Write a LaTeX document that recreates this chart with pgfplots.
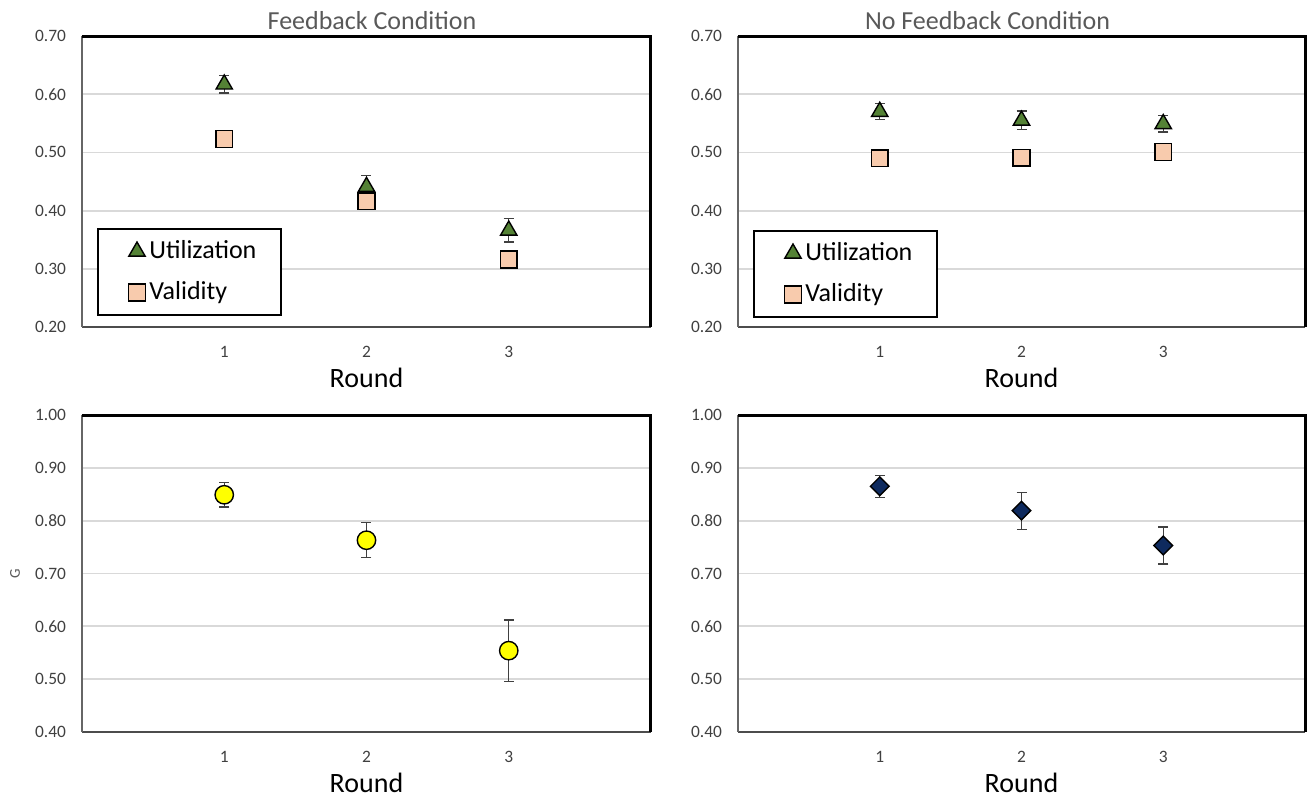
\documentclass[border=0pt]{standalone}
\usepackage{pgfplots}
\pgfplotsset{compat=1.18}
\usepackage{fontspec}
\setmainfont{Carlito}
\definecolor{ugreen}{HTML}{548235}
\definecolor{vpeach}{HTML}{F8CBAD}
\definecolor{gyellow}{HTML}{FFFF00}
\definecolor{gnavy}{HTML}{0E2A5E}
\pgfplotsset{
  panel/.style={
    scale only axis, anchor=south west,
    xmin=0, xmax=4, xtick={1,2,3},
    axis x line*=bottom, axis y line*=left, axis line style={-},
    x axis line style={line width=1.1pt, draw=black!70},
    y axis line style={line width=0.8pt, draw=black!60},
    major tick length=0pt,
    ymajorgrids, grid style={draw=black!15, line width=0.9pt},
    tick label style={font=\fontsize{8.7}{10}\selectfont, text=black!75},
    /pgf/number format/assume math mode=true,
    yticklabel style={/pgf/number format/fixed, /pgf/number format/fixed zerofill, /pgf/number format/precision=2, xshift=-4.5pt},
    xticklabel style={yshift=-6pt},
    xlabel={Round},
    xlabel style={at={(axis description cs:0.5,0)}, anchor=center, yshift=-25.5pt, font=\fontsize{14}{16}\selectfont},
    title style={at={(axis description cs:0.5,1)}, anchor=center, yshift=1.5pt, font=\fontsize{13}{15}\selectfont, text=black!65},
    after end axis/.code={\draw[line width=1.5pt, black] (rel axis cs:0,1) -- (rel axis cs:1,1) -- (rel axis cs:1,0);},
    legend cell align=left,
    legend style={at={(0,0)}, anchor=south west, draw=black, line width=1pt, inner xsep=10.5pt, inner ysep=4pt, row sep=6pt, font=\fontsize{13}{15}\selectfont},
    legend image code/.code={\draw[#1] plot coordinates {(0pt,0pt)}; \path (-8.5pt,0pt) (3.5pt,0pt);},
  },
  ebar/.style={
    only marks,
    /pgfplots/error bars/y dir=both,
    /pgfplots/error bars/y explicit,
    /pgfplots/error bars/error bar style={line width=0.6pt, draw=black!75},
    /pgfplots/error bars/error mark options={rotate=90, mark size=2.5pt, line width=0.6pt, draw=black!75},
  },
  util/.style={ebar, mark=triangle*, mark size=4.7pt, mark options={fill=ugreen, draw=black, line width=0.7pt}},
  vali/.style={ebar, mark=square*, mark size=4.2pt, mark options={fill=vpeach, draw=black, line width=0.7pt}},
}
\begin{document}
\begin{tikzpicture}
\useasboundingbox (0,0) rectangle (654pt,399pt);
% Top left
\begin{axis}[panel, at={(41pt,235.5pt)}, width=284.5pt, height=145.5pt,
  ymin=0.2, ymax=0.7, ytick={0.2,0.3,0.4,0.5,0.6,0.7},
  title={Feedback Condition}, title style={xshift=2.75pt},
  legend style={xshift=7.5pt, yshift=5.5pt}]
\addplot+[util] table[x=x, y=y, y error=e] {
x y e
1 0.617 0.015
2 0.441 0.019
3 0.366 0.020
};
\addlegendentry{Utilization}
\addplot+[vali] table[x=x, y=y, y error=e] {
x y e
1 0.523 0.012
2 0.416 0.010
3 0.316 0.012
};
\addlegendentry{Validity}
\end{axis}
% Top right
\begin{axis}[panel, at={(369pt,235.5pt)}, width=283.5pt, height=145.5pt,
  ymin=0.2, ymax=0.7, ytick={0.2,0.3,0.4,0.5,0.6,0.7},
  title={No Feedback Condition}, title style={xshift=-17pt},
  legend style={xshift=7.5pt, yshift=4.5pt}]
\addplot+[util] table[x=x, y=y, y error=e] {
x y e
1 0.570 0.014
2 0.555 0.016
3 0.549 0.014
};
\addlegendentry{Utilization}
\addplot+[vali] table[x=x, y=y, y error=e] {
x y e
1 0.490 0.010
2 0.491 0.010
3 0.501 0.010
};
\addlegendentry{Validity}
\end{axis}
% Bottom left
\begin{axis}[panel, at={(41pt,33pt)}, width=284.5pt, height=158.5pt,
  ymin=0.4, ymax=1.0, ytick={0.4,0.5,0.6,0.7,0.8,0.9,1.0},
  ylabel={G},
  ylabel style={at={(axis description cs:0,0.5)}, anchor=center, yshift=33.5pt, font=\fontsize{7.5}{9}\selectfont, text=black!65}]
\addplot+[ebar, mark=*, mark size=4.6pt, mark options={fill=gyellow, draw=black, line width=0.7pt}] table[x=x, y=y, y error=e] {
x y e
1 0.849 0.023
2 0.763 0.033
3 0.554 0.058
};
\end{axis}
% Bottom right
\begin{axis}[panel, at={(369pt,33pt)}, width=283.5pt, height=158.5pt,
  ymin=0.4, ymax=1.0, ytick={0.4,0.5,0.6,0.7,0.8,0.9,1.0}]
\addplot+[ebar, mark=square*, mark size=3.3pt, mark options={rotate=45, fill=gnavy, draw=black, line width=0.7pt}] table[x=x, y=y, y error=e] {
x y e
1 0.865 0.021
2 0.819 0.035
3 0.753 0.035
};
\end{axis}
\end{tikzpicture}
\end{document}
